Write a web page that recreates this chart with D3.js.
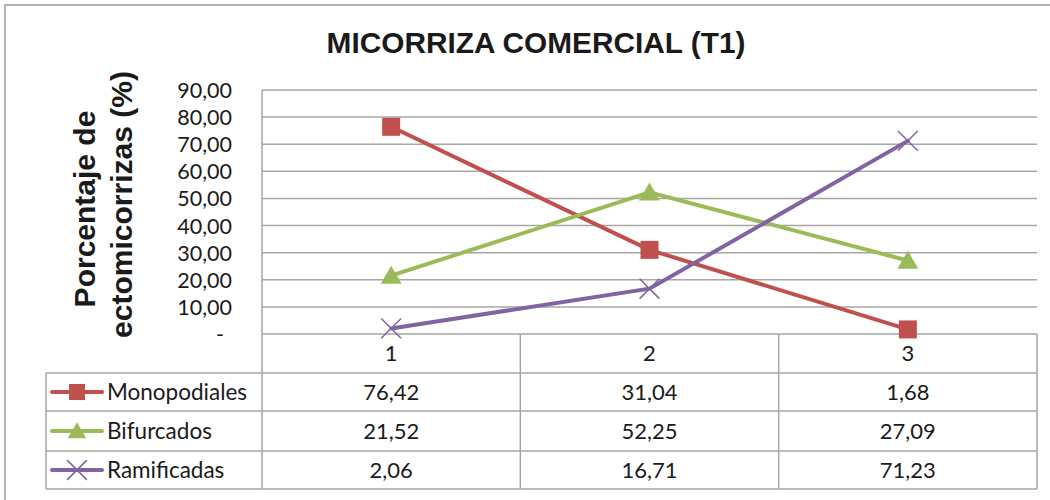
<!DOCTYPE html>
<html>
<head>
<meta charset="utf-8">
<script src="https://cdn.jsdelivr.net/npm/d3@7"></script>
<style>
  body { margin: 0; background: #fff; }
  text { fill: #1a1a1a; }
</style>
</head>
<body>
<script>
// data
let categories = ["1", "2", "3"];
let seriesNames = ["Monopodiales", "Bifurcados", "Ramificadas"];
let monopodiales = [76.42, 31.04, 1.68];
let bifurcados = [21.52, 52.25, 27.09];
let ramificadas = [2.06, 16.71, 71.23];
let yTicks = [0, 10, 20, 30, 40, 50, 60, 70, 80, 90];

let series = [
  { name: seriesNames[0], values: monopodiales, color: "#c0504d", marker: "square" },
  { name: seriesNames[1], values: bifurcados, color: "#9bbb59", marker: "triangle" },
  { name: seriesNames[2], values: ramificadas, color: "#8064a2", marker: "cross" }
];

// layout
let svgWidth = 1050, svgHeight = 500;
let plot = { left: 262, right: 1037, top: 90, bottom: 334 };
let legendLeft = 46;
let rowLines = [334, 373, 411, 451, 489];
let gridColor = "#a6a6a6";
let bodyFont = "Lato, 'Open Sans', sans-serif";
let boldFont = "'Liberation Sans', Arial, sans-serif";
let fmt = v => v.toFixed(2).replace(".", ",");

let svg = d3.select("body").append("svg")
  .attr("width", svgWidth)
  .attr("height", svgHeight)
  .style("font-family", bodyFont);

// outer frame
svg.append("rect")
  .attr("x", 5).attr("y", 5)
  .attr("width", 1060).attr("height", 520)
  .attr("fill", "none")
  .attr("stroke", "#9a9a9a")
  .attr("stroke-width", 1.5);

// scales
let xScale = d3.scaleBand()
  .domain(categories)
  .range([plot.left, plot.right]);
let yScale = d3.scaleLinear()
  .domain([0, 90])
  .range([plot.bottom, plot.top]);
let cx = c => xScale(c) + xScale.bandwidth() / 2;

// grid lines
svg.append("g").selectAll("line").data(yTicks).join("line")
  .attr("x1", plot.left).attr("x2", plot.right)
  .attr("y1", d => yScale(d)).attr("y2", d => yScale(d))
  .attr("stroke", gridColor).attr("stroke-width", 1.5);

// y axis labels
let yAxis = d3.axisLeft(yScale)
  .tickValues(yTicks)
  .tickSize(0)
  .tickPadding(0)
  .tickFormat(d => d === 0 ? "-" : fmt(d));
let yAxisG = svg.append("g")
  .attr("transform", `translate(${232}, 0)`)
  .call(yAxis);
yAxisG.select(".domain").remove();
yAxisG.selectAll("text")
  .style("font-family", bodyFont)
  .style("font-size", "21.5px")
  .attr("fill", "#1a1a1a")
  .attr("dy", "0.35em")
  .attr("dx", d => d === 0 ? -8 : 0);

// table lines
let tbl = svg.append("g").attr("stroke", gridColor).attr("stroke-width", 1.5);
tbl.append("line")
  .attr("x1", plot.left).attr("x2", plot.left)
  .attr("y1", plot.top).attr("y2", rowLines[4]);
tbl.selectAll(".vcol").data(categories).join("line")
  .attr("class", "vcol")
  .attr("x1", d => xScale(d) + xScale.bandwidth())
  .attr("x2", d => xScale(d) + xScale.bandwidth())
  .attr("y1", plot.bottom).attr("y2", rowLines[4]);
tbl.append("line")
  .attr("x1", legendLeft).attr("x2", legendLeft)
  .attr("y1", rowLines[1]).attr("y2", rowLines[4]);
tbl.selectAll(".hrow").data(rowLines.slice(1)).join("line")
  .attr("class", "hrow")
  .attr("x1", legendLeft).attr("x2", plot.right)
  .attr("y1", d => d).attr("y2", d => d);

// category header
svg.append("g").selectAll("text").data(categories).join("text")
  .attr("x", d => cx(d))
  .attr("y", 353)
  .attr("dy", "0.35em")
  .attr("text-anchor", "middle")
  .style("font-size", "22px")
  .text(d => d);

// markers
function drawMarker(g, type, color, size) {
  if (type === "square") {
    g.append("rect")
      .attr("x", -size / 2).attr("y", -size / 2)
      .attr("width", size).attr("height", size)
      .attr("fill", color);
  } else if (type === "triangle") {
    let h = size;
    g.append("path")
      .attr("d", `M0,${-h * 0.55} L${h * 0.58},${h * 0.45} L${-h * 0.58},${h * 0.45} Z`)
      .attr("fill", color);
  } else {
    let s = size * 0.55;
    g.append("path")
      .attr("d", `M${-s},${-s} L${s},${s} M${-s},${s} L${s},${-s}`)
      .attr("stroke", color).attr("stroke-width", 1.5).attr("fill", "none");
  }
}

let line = d3.line()
  .x((d, i) => cx(categories[i]))
  .y(d => yScale(d));

series.forEach(s => {
  svg.append("path")
    .attr("d", line(s.values))
    .attr("fill", "none")
    .attr("stroke", s.color)
    .attr("stroke-width", 4)
    .attr("stroke-linecap", "round");
  s.values.forEach((v, i) => {
    let g = svg.append("g")
      .attr("transform", `translate(${cx(categories[i])}, ${yScale(v)})`);
    drawMarker(g, s.marker, s.color, 18);
  });
});

// table rows
series.forEach((s, r) => {
  let yc = (rowLines[r + 1] + rowLines[r + 2]) / 2;
  let key = svg.append("g").attr("transform", `translate(${legendLeft + 31}, ${yc})`);
  key.append("line")
    .attr("x1", -25).attr("x2", 25)
    .attr("stroke", s.color).attr("stroke-width", 4)
    .attr("stroke-linecap", "round");
  drawMarker(key, s.marker, s.color, s.marker === "cross" ? 18 : 16);
  svg.append("text")
    .attr("x", legendLeft + 61)
    .attr("y", yc)
    .attr("dy", "0.35em")
    .style("font-size", "22.5px")
    .text(s.name);
  svg.append("g").selectAll("text").data(s.values).join("text")
    .attr("x", (d, i) => cx(categories[i]))
    .attr("y", yc)
    .attr("dy", "0.35em")
    .attr("text-anchor", "middle")
    .style("font-size", "22px")
    .text(d => fmt(d));
});

// title
svg.append("text")
  .attr("x", 536).attr("y", 53)
  .attr("text-anchor", "middle")
  .style("font-family", boldFont)
  .style("font-weight", "bold")
  .style("font-size", "29.8px")
  .text("MICORRIZA COMERCIAL (T1)");

// y label
let yLabel = svg.append("text")
  .attr("transform", `translate(${94.5}, ${207}) rotate(-90)`)
  .attr("text-anchor", "middle")
  .style("font-family", boldFont)
  .style("font-weight", "bold")
  .style("font-size", "30px");
yLabel.append("tspan").attr("x", -2).attr("y", 0).text("Porcentaje de");
yLabel.append("tspan").attr("x", 2.5).attr("y", 37).text("ectomicorrizas (%)");
</script>
</body>
</html>
